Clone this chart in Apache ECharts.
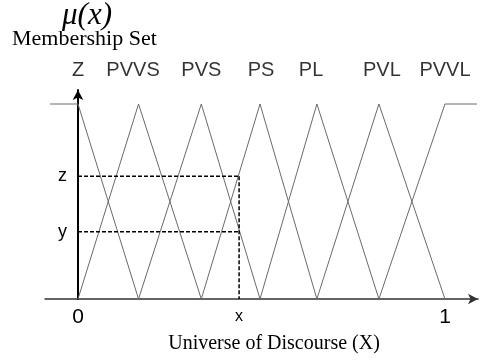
<!DOCTYPE html>
<html>
<head>
<meta charset="utf-8">
<script src="https://cdn.jsdelivr.net/npm/echarts@6/dist/echarts.min.js"></script>
<style>
  html, body { margin: 0; padding: 0; background: #fff; }
  #chart { width: 484px; height: 360px; }
</style>
</head>
<body>
<div id="chart"></div>
<script>
// Fuzzy set names and the peak of each membership triangle on the universe [0, 1]
const setNames = ['Z', 'PVVS', 'PVS', 'PS', 'PL', 'PVL', 'PVVL'];
const peaks = [0, 0.165, 0.336, 0.496, 0.651, 0.82, 1.0];
// Where each set name sits along the universe
const nameAnchors = [0, 0.15, 0.336, 0.499, 0.635, 0.828, 1.0];
// Shoulder extents of the outer sets
const leftShoulder = -0.076;
const rightShoulder = 1.087;

// Sample input and its two membership degrees
const inputX = 0.439;
const degreeZ = 0.63;
const degreeY = 0.345;

// Tick labels
const xTickValues = [0, inputX, 1];
const xTickLabels = ['0', 'x', '1'];
const yTickValues = [degreeY, degreeZ];
const yTickLabels = ['y', 'z'];

// Build each membership function as a polyline
const setLines = setNames.map(function (name, i) {
  let pts;
  if (i === 0) {
    pts = [[leftShoulder, 1], [peaks[0], 1], [peaks[1], 0]];
  } else if (i === setNames.length - 1) {
    pts = [[peaks[i - 1], 0], [peaks[i], 1], [rightShoulder, 1]];
  } else {
    pts = [[peaks[i - 1], 0], [peaks[i], 1], [peaks[i + 1], 0]];
  }
  return {
    type: 'line',
    name: name,
    data: pts,
    symbol: 'none',
    silent: true,
    lineStyle: { color: '#6a6a6a', width: 1 },
    z: 2
  };
});

const dashStyle = { color: '#000', width: 1.5, type: [4, 2] };
const guideLines = [
  [[0, degreeZ], [inputX, degreeZ]],
  [[0, degreeY], [inputX, degreeY]],
  [[inputX, degreeZ], [inputX, 0]]
].map(function (pts) {
  return { type: 'line', data: pts, symbol: 'none', silent: true, lineStyle: dashStyle, z: 3 };
});

const nameSeries = {
  type: 'scatter',
  symbolSize: 0,
  silent: true,
  data: setNames.map(function (n, i) { return { name: n, value: [nameAnchors[i], 1] }; }),
  label: {
    show: true,
    position: 'inside',
    offset: [0, -34],
    formatter: function (p) { return p.name; },
    fontFamily: 'Liberation Sans',
    fontSize: 20,
    color: '#000'
  }
};

const chart = echarts.init(document.getElementById('chart'), null, { renderer: 'canvas' });
chart.setOption({
  animation: false,
  backgroundColor: '#fff',
  grid: { left: 45, right: 6, top: 90, bottom: 61, containLabel: false },
  xAxis: {
    type: 'value',
    min: -0.0899,
    max: 1.09,
    splitLine: { show: false },
    axisTick: { show: false },
    axisLine: {
      show: true,
      symbol: ['none', 'arrow'],
      symbolSize: [8, 10],
      lineStyle: { color: '#333', width: 1.5 }
    },
    axisLabel: {
      show: true,
      customValues: xTickValues,
      margin: 8,
      formatter: function (v) {
        const i = xTickValues.indexOf(v);
        const t = i >= 0 ? xTickLabels[i] : '';
        return t === 'x' ? '{s|' + t + '}' : '{b|' + t + '}';
      },
      rich: {
        b: { fontFamily: 'Liberation Sans', fontSize: 21, color: '#000' },
        s: { fontFamily: 'Liberation Sans', fontSize: 16, color: '#000', padding: [2, 0, 0, 0] }
      }
    }
  },
  yAxis: {
    type: 'value',
    min: 0,
    max: 1.0718,
    splitLine: { show: false },
    axisTick: { show: false },
    axisLine: {
      show: true,
      onZero: true,
      symbol: ['none', 'arrow'],
      symbolSize: [8, 10],
      lineStyle: { color: '#000', width: 2 }
    },
    axisLabel: {
      show: true,
      customValues: yTickValues,
      // labels sit beside the zero line, which is 33px inside the grid edge
      margin: -22,
      fontFamily: 'Liberation Sans',
      fontSize: 18,
      color: '#000',
      formatter: function (v) {
        const i = yTickValues.indexOf(v);
        return i >= 0 ? yTickLabels[i] : '';
      }
    }
  },
  graphic: [
    {
      type: 'text',
      left: 62, top: 0,
      style: { text: 'μ(x)', fontFamily: 'Liberation Serif', fontStyle: 'italic', fontSize: 31, fill: '#000' }
    },
    {
      type: 'text',
      left: 12, top: 28,
      style: { text: 'Membership Set', fontFamily: 'Liberation Serif', fontSize: 22, fill: '#000' }
    },
    {
      type: 'text',
      x: 274, y: 354,
      style: { text: 'Universe of Discourse (X)', fontFamily: 'Liberation Serif', fontSize: 20, fill: '#000', align: 'center', verticalAlign: 'bottom' }
    }
  ],
  series: setLines.concat(guideLines, [nameSeries])
});
</script>
</body>
</html>
